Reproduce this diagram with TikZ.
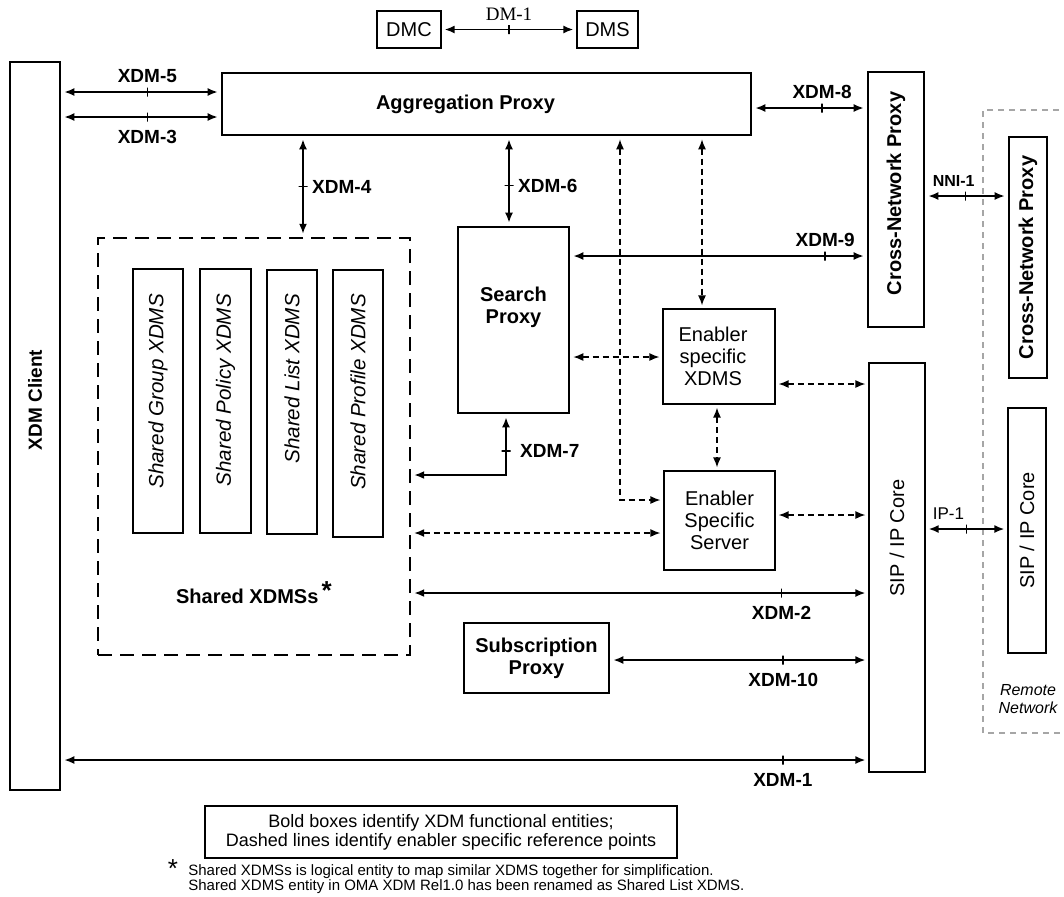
\documentclass[tikz,border=0pt]{standalone}
\usepackage{fontspec}
\setmainfont{Liberation Sans}
\newfontfamily\dmserif{Liberation Serif}
\usetikzlibrary{arrows.meta}

\begin{document}
\begin{tikzpicture}[
    x=0.5pt, y=-0.5pt,
    box/.style={rectangle, draw, line width=1.3pt, inner sep=0pt},
    thinbox/.style={rectangle, draw, line width=0.6pt, inner sep=0pt,
                    font=\fontsize{10}{11}\selectfont, align=center},
    title/.style={font=\fontsize{10}{11}\selectfont\bfseries, align=center},
    plain/.style={font=\fontsize{10}{11}\selectfont, align=center},
    shared/.style={font=\fontsize{10.3}{12}\selectfont\itshape, rotate=90, anchor=east},
    link/.style={{Latex[length=5pt,width=4pt]}-{Latex[length=5pt,width=4pt]},
                 line width=0.9pt, shorten <=1.5pt, shorten >=1.5pt},
    dlink/.style={link, line width=0.7pt, dash pattern=on 3pt off 2pt},
    tickv/.style={draw, line width=0.8pt, inner sep=0pt, minimum width=0pt, minimum height=4.5pt},
    tickh/.style={draw, line width=0.8pt, inner sep=0pt, minimum width=4.5pt, minimum height=0pt},
    lbl/.style={font=\fontsize{9.5}{11}\selectfont\bfseries, inner sep=1.5pt},
]
\useasboundingbox (0,0) rectangle (1064,896);

% ── Device management ──
\node[thinbox, minimum width=32pt, minimum height=18.5pt] (dmc) at (409,29.5) {DMC};
\node[thinbox, minimum width=30.5pt, minimum height=18.5pt] (dms) at (607.5,29.5) {DMS};

% ── Main entities ──
\node[box, minimum width=25pt, minimum height=364pt] (client) at (35,426) {};
\node[title, rotate=90, font=\fontsize{9.5}{11}\selectfont\bfseries] at ([yshift=13pt]client.center) {XDM Client};
\node[box, minimum width=264.5pt, minimum height=31pt] (agg) at (486.5,104) {};
\node[title] at ([xshift=-10.5pt]agg.center) {Aggregation Proxy};
\node[box, minimum width=55.5pt, minimum height=93pt] (search) at (513.5,320) {};
\node[title] at ([yshift=6.5pt]search.center) {Search\\Proxy};
\node[box, minimum width=72.5pt, minimum height=35pt] (subp) at (536.5,658) {};
\node[title] at (subp.center) {Subscription\\Proxy};
\node[box, minimum width=28pt, minimum height=127.5pt] (cnp) at (896,199.5) {};
\node[title, rotate=90] at ([yshift=3pt]cnp.center) {Cross-Network Proxy};
\node[thinbox, minimum width=28pt, minimum height=204.5pt] (sip) at (897,567.5) {};
\node[plain, rotate=90] at ([yshift=14.75pt]sip.center) {SIP / IP Core};

% ── Enabler specific ──
\node[thinbox, minimum width=56pt, minimum height=47.5pt] (exdms) at (719,356.5) {};
\node[plain] at ([xshift=-3pt]exdms.center) {Enabler\\specific\\XDMS};
\node[thinbox, minimum width=55.5pt, minimum height=49.5pt] (ess) at (719.5,520.5) {};
\node[plain] at (ess.center) {Enabler\\Specific\\Server};

% ── Shared XDMSs ──
\node[draw, line width=1.2pt, dash pattern=on 7pt off 4pt, inner sep=0pt,
      minimum width=156pt, minimum height=208.5pt] (shared) at (254,446.5) {};
\node[box, minimum width=25pt, minimum height=132pt] (grp) at (158,401) {};
\node[box, minimum width=25.5pt, minimum height=132pt] (pol) at (225.5,401) {};
\node[box, minimum width=25pt, minimum height=132pt] (lst) at (292,402) {};
\node[box, minimum width=25pt, minimum height=133.5pt] (prf) at (358,403.5) {};
\node[shared] at (158,287) {Shared Group XDMS};
\node[shared] at (225.5,287) {Shared Policy XDMS};
\node[shared] at (292,287) {Shared List XDMS};
\node[shared] at (358,287) {Shared Profile XDMS};
\node[title] at (254,593) {Shared XDMSs\,\raisebox{2pt}{\fontsize{13}{13}\selectfont *}};

% ── Remote network ──
\draw[gray!70, line width=0.6pt, dash pattern=on 3pt off 2.5pt]
    (1070,110) -- (983,110) -- (983,733) -- (1070,733);
\node[box, minimum width=19pt, minimum height=120.5pt] (rcnp) at (1028,257.5) {};
\node[title, rotate=90] at (rcnp.center) {Cross-Network Proxy};
\node[thinbox, minimum width=19pt, minimum height=122.5pt] (rsip) at (1027,530.5) {};
\node[plain, rotate=90] at (rsip.center) {SIP / IP Core};
\node[font=\fontsize{8}{9}\selectfont\itshape, align=center] at (1028,699) {Remote\\Network};

% ── Reference points ──
\draw[link] (dmc) -- (dms) node[pos=0.5, tickv,
    label={[font=\dmserif\fontsize{9.5}{11}\selectfont, inner sep=1.5pt]above:DM-1}] {};
\draw[link] (client.east |- 0,92) -- (agg.west |- 0,92)
    node[pos=0.54, tickv, label={[lbl]above:XDM-5}] {};
\draw[link] (client.east |- 0,117) -- (agg.west |- 0,117)
    node[pos=0.54, tickv, label={[lbl, label distance=2pt]below:XDM-3}] {};
\draw[link] (agg.south -| 303,0) -- (shared.north -| 303,0)
    node[pos=0.5, tickh, label={[lbl]right:XDM-4}] {};
\draw[link] (agg.south -| 509,0) -- (search.north -| 509,0)
    node[pos=0.55, tickh, label={[lbl]right:XDM-6}] {};
\draw[link] (agg.east |- 0,108) -- (cnp.west |- 0,108)
    node[pos=0.61, tickv, label={[lbl]above:XDM-8}] {};
\draw[link] (search.east |- 0,256) -- (cnp.west |- 0,256)
    node[pos=0.86, tickv, label={[lbl]above:XDM-9}] {};
\draw[link] (cnp.east |- 0,196) -- (rcnp.west |- 0,196)
    node[pos=0.49, tickv, label={[lbl, font=\fontsize{8}{9}\selectfont\bfseries, xshift=-6pt]above:NNI-1}] {};
\draw[link] (sip.east |- 0,529) -- (rsip.west |- 0,529)
    node[pos=0.5, tickv, label={[lbl, font=\fontsize{8.5}{9}\selectfont, xshift=-9pt]above:IP-1}] {};
\draw[link] (search.south -| 506,0) |- (shared.east |- 0,475)
    node[pos=0.3, tickh, label={[lbl, label distance=2.5pt]right:XDM-7}] {};
\draw[link] (shared.east |- 0,593) -- (sip.west |- 0,593)
    node[pos=0.81, tickv, label={[lbl, label distance=2pt]below:XDM-2}] {};
\draw[link] (subp.east |- 0,660) -- (sip.west |- 0,660)
    node[pos=0.67, tickv, label={[lbl, label distance=2pt]below:XDM-10}] {};
\draw[link] (client.east |- 0,760) -- (sip.west |- 0,760)
    node[pos=0.894, tickv, label={[lbl, label distance=2pt]below:XDM-1}] {};

% ── Enabler specific reference points ──
\draw[dlink] (agg.south -| 702,0) -- (exdms.north -| 702,0);
\draw[dlink] (agg.south -| 620,0) |- (ess.west |- 0,500);
\draw[dlink] (search.east |- 0,357) -- (exdms.west |- 0,357);
\draw[dlink] (exdms.east |- 0,384) -- (sip.west |- 0,384);
\draw[dlink] (exdms.south -| 717,0) -- (ess.north -| 717,0);
\draw[dlink] (ess.east |- 0,515) -- (sip.west |- 0,515);
\draw[dlink] (shared.east |- 0,533) -- (ess.west |- 0,533);

% ── Legend and note ──
\node[draw, line width=1pt, minimum width=236pt, minimum height=26pt, inner sep=0pt,
      font=\fontsize{9}{9.5}\selectfont, align=center] (legend) at (441,832)
    {Bold boxes identify XDM functional entities;\\Dashed lines identify enabler specific reference points};
\node[font=\fontsize{13}{13}\selectfont, inner sep=0pt] (star) at (173,869) {*};
\node[anchor=west, align=left, inner sep=0pt, font=\fontsize{7.5}{7.5}\selectfont] (note) at (188,879)
    {Shared XDMSs is logical entity to map similar XDMS together for simplification.\\
     Shared XDMS entity in OMA XDM Rel1.0 has been renamed as Shared List XDMS.};

\end{tikzpicture}
\end{document}
